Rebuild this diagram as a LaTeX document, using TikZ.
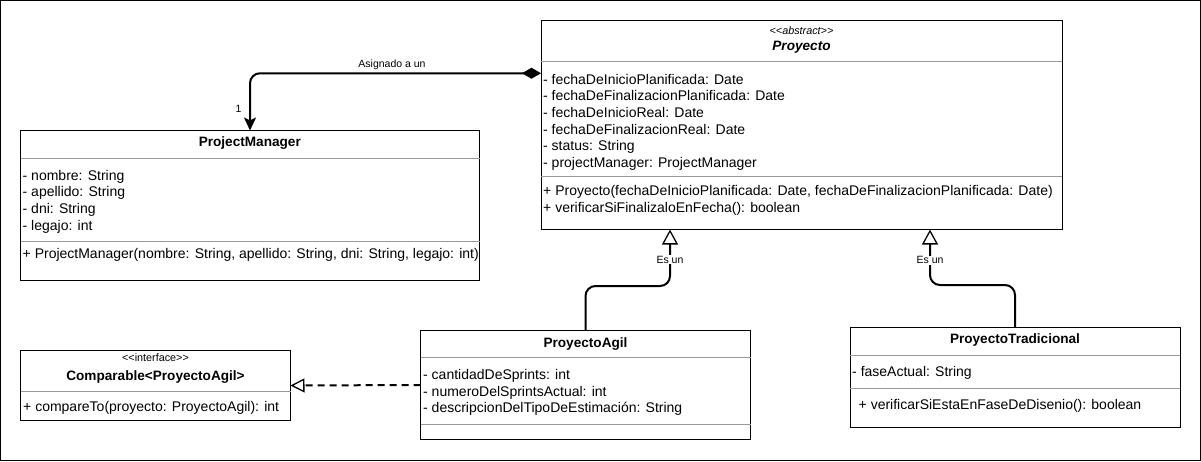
\documentclass[tikz,border=0pt]{standalone}
\usepackage{fontspec}
\setmainfont{Liberation Sans}[Ligatures=TeXOff]
\usetikzlibrary{arrows.meta}

\begin{document}
\begin{tikzpicture}[x=1pt,y=-1pt,
  box/.style={draw=black, line width=1pt, fill=white, rectangle, inner sep=0pt, outer sep=0pt, anchor=north west},
  sepline/.style={draw=black!40, line width=1pt},
  member/.style={anchor=base west, inner sep=0pt, font=\fontsize{14}{16.8}\selectfont},
  title/.style={anchor=base, inner sep=0pt, font=\fontsize{13.6}{16}\selectfont\bfseries},
  stereo/.style={anchor=base, inner sep=0pt, font=\fontsize{10.8}{12}\selectfont},
  lbl/.style={inner sep=1pt, font=\fontsize{10.5}{12}\selectfont},
  link/.style={line width=2pt, rounded corners=10pt},
  inherit/.style={link, -{Triangle[length=15pt, width=16pt, fill=white, line width=1.3pt]}},
  realize/.style={line width=2pt, dash pattern=on 7pt off 5pt, -{Triangle[length=14pt, width=14pt, fill=white, line width=1.3pt]}},
  compose/.style={link, {Diamond[length=19pt, width=11pt]}-{Stealth[length=13pt, width=12pt, inset=3pt]}}
]
\useasboundingbox (0,0) rectangle (1201,461);
\draw[line width=1pt] (0.5,0.5) rectangle (1200.5,460.5);

% ---- class boxes ----
\node[box, minimum width=521pt, minimum height=209.5pt] (proy) at (541,20) {};
\node[box, minimum width=459pt, minimum height=149.5pt] (pm) at (20.5,130.5) {};
\node[box, minimum width=270pt, minimum height=70pt] (comp) at (20.5,350.5) {};
\node[box, minimum width=330pt, minimum height=109pt] (agil) at (420.5,330.5) {};
\node[box, minimum width=330pt, minimum height=100.5pt] (trad) at (850,327) {};

% ---- compartment separators ----
\draw[sepline] (541,61.5) -- (1062,61.5);
\draw[sepline] (541,176.5) -- (1062,176.5);
\draw[sepline] (20.5,158.5) -- (479.5,158.5);
\draw[sepline] (20.5,241.5) -- (479.5,241.5);
\draw[sepline] (20.5,391) -- (290.5,391);
\draw[sepline] (420.5,357.5) -- (750.5,357.5);
\draw[sepline] (420.5,424) -- (750.5,424);
\draw[sepline] (850,355.5) -- (1180,355.5);
\draw[sepline] (850,388.5) -- (1180,388.5);

% ---- Proyecto ----
\node[stereo, font=\fontsize{10.8}{12}\selectfont\itshape] (proyS) at (801.5,34) {<<abstract>>};
\node[title, font=\fontsize{13.6}{16}\selectfont\bfseries\itshape] (proyT) at (801.5,50.5) {Proyecto};
\node[member] (proyA1) at (543,84) {- fechaDeInicioPlanificada: Date};
\node[member] (proyA2) at (543,100.7) {- fechaDeFinalizacionPlanificada: Date};
\node[member] (proyA3) at (543,117.3) {- fechaDeInicioReal: Date};
\node[member] (proyA4) at (543,134) {- fechaDeFinalizacionReal: Date};
\node[member] (proyA5) at (543,150.7) {- status: String};
\node[member] (proyA6) at (543,167.3) {- projectManager: ProjectManager};
\node[member] (proyM1) at (543,195.8) {+ Proyecto(fechaDeInicioPlanificada: Date, fechaDeFinalizacionPlanificada: Date)};
\node[member] (proyM2) at (543,212.4) {+ verificarSiFinalizaloEnFecha(): boolean};

% ---- ProjectManager ----
\node[title] (pmT) at (249.8,146.7) {ProjectManager};
\node[member] (pmA1) at (22.5,180) {- nombre: String};
\node[member] (pmA2) at (22.5,196.7) {- apellido: String};
\node[member] (pmA3) at (22.5,213.3) {- dni: String};
\node[member] (pmA4) at (22.5,230) {- legajo: int};
\node[member] (pmM1) at (22.5,258.3) {+ ProjectManager(nombre: String, apellido: String, dni: String, legajo: int)};

% ---- Comparable ----
\node[stereo] (compS) at (155.5,361.7) {<<interface>>};
\node[title] (compT) at (155.5,380) {Comparable<ProyectoAgil>};
\node[member] (compM1) at (23,411.7) {+ compareTo(proyecto: ProyectoAgil): int};

% ---- ProyectoAgil ----
\node[title] (agilT) at (585.5,347) {ProyectoAgil};
\node[member] (agilA1) at (423,379.3) {- cantidadDeSprints: int};
\node[member] (agilA2) at (423,396) {- numeroDelSprintsActual: int};
\node[member] (agilA3) at (423,412.7) {- descripcionDelTipoDeEstimación: String};

% ---- ProyectoTradicional ----
\node[title] (tradT) at (1015,343.5) {ProyectoTradicional};
\node[member] (tradA1) at (852,376.7) {- faseActual: String};
\node[member] (tradM1) at (858.5,409.3) {+ verificarSiEstaEnFaseDeDisenio(): boolean};

% ---- relations ----
\draw[compose] ([yshift=51.5pt]proy.west) -| (pm.north);
\node[lbl, anchor=base, inner sep=0pt] (asigLbl) at (392,67.3) {Asignado a un};
\node[lbl, anchor=base, inner sep=0pt] (multLbl) at (238.5,112) {1};

\draw[inherit] (agil.north) -- ([yshift=44.5pt]agil.north) -| ([xshift=-131.5pt]proy.south);
\node[lbl, fill=white] (esA) at (670,259.5) {Es un};

\draw[inherit] (trad.north) -- ([yshift=42pt]trad.north) -| ([xshift=128.5pt]proy.south);
\node[lbl, fill=white] (esB) at (930,260.3) {Es un};

\draw[realize] (agil.west) -- (comp.east);
\end{tikzpicture}
\end{document}
